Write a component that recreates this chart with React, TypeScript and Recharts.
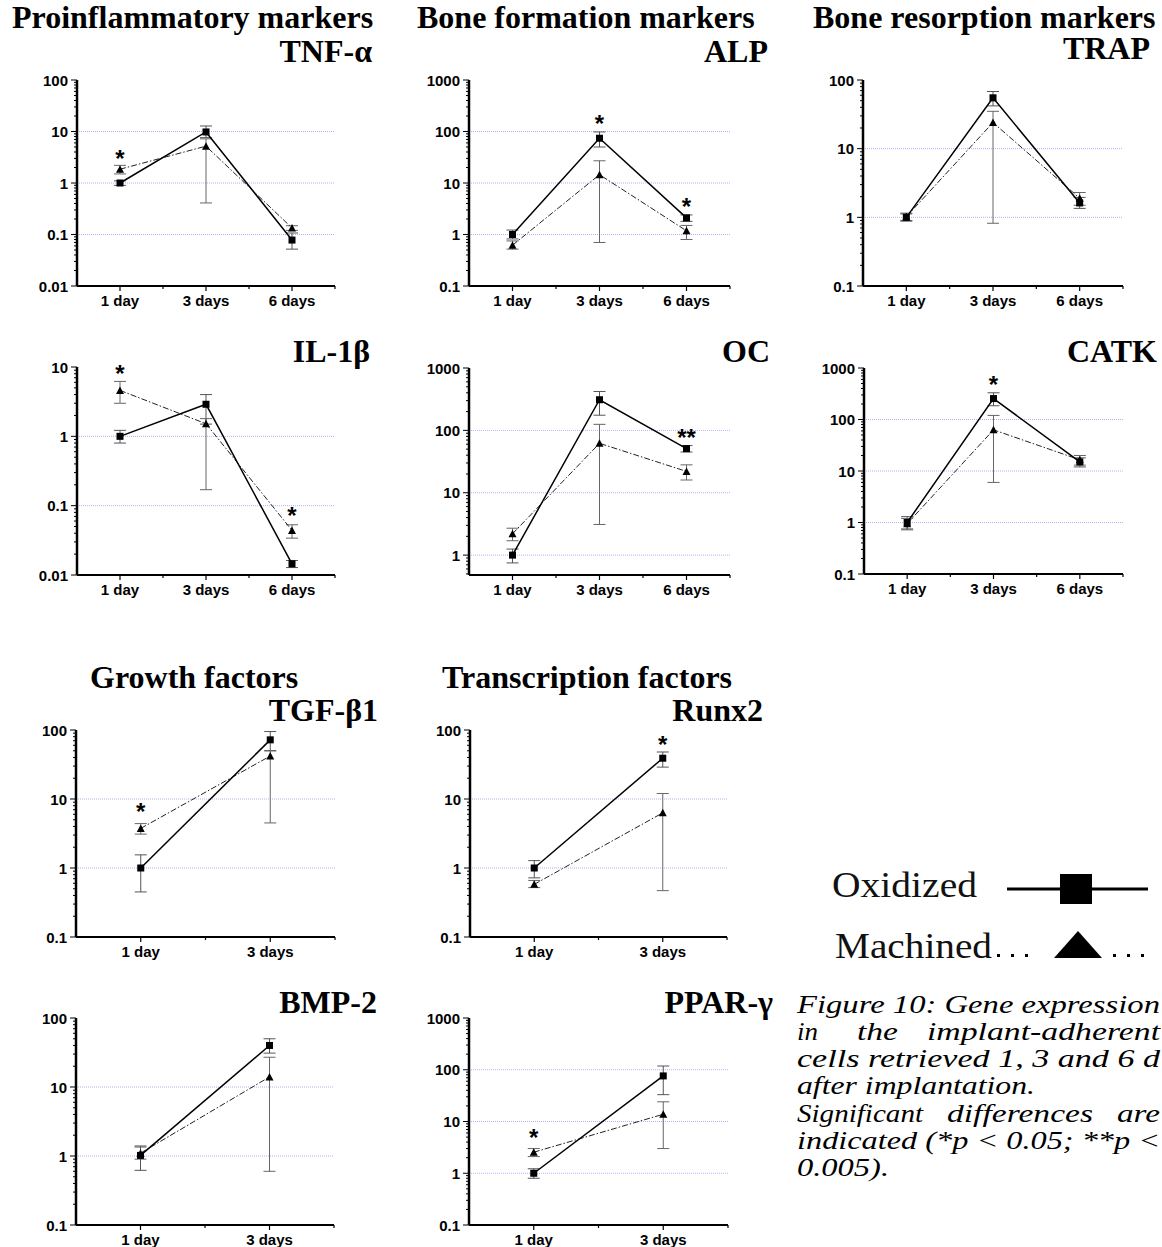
import React from 'react';
import { LineChart, Line, XAxis, YAxis, ErrorBar, ReferenceLine, ReferenceDot } from 'recharts';

// ---------- categories ----------
const DAYS_3 = ['1 day', '3 days', '6 days'];
const DAYS_2 = ['1 day', '3 days'];

// ---------- data (fold change, log scale) ----------
// TNF-α
const tnfOx = [1.0, 9.8, 0.078];
const tnfOxRange = [[0.9, 1.1], [7.6, 12.8], [0.052, 0.107]];
const tnfMa = [1.85, 5.2, 0.134];
const tnfMaRange = [[1.5, 2.2], [0.41, 7.2], [0.12, 0.148]];
const tnfStars = [{ x: 1, y: 3.66, t: '*' }];

// ALP
const alpOx = [1.0, 74, 2.1];
const alpOxRange = [[0.82, 1.22], [50, 98], [1.8, 2.4]];
const alpMa = [0.62, 14.5, 1.18];
const alpMaRange = [[0.52, 0.75], [0.7, 27], [0.8, 1.5]];
const alpStars = [{ x: 2, y: 178, t: '*' }, { x: 3, y: 4.2, t: '*' }];

// TRAP
const trapOx = [1.0, 55, 1.62];
const trapOxRange = [[0.88, 1.15], [42, 68], [1.35, 1.95]];
const trapMa = [1.02, 24, 1.9];
const trapMaRange = [[0.9, 1.12], [0.82, 35], [1.5, 2.3]];
const trapStars: Star[] = [];

// IL-1β
const il1Ox = [1.0, 2.9, 0.0145];
const il1OxRange = [[0.8, 1.22], [1.5, 4.0], [0.0128, 0.0162]];
const il1Ma = [4.6, 1.52, 0.044];
const il1MaRange = [[3.0, 6.2], [0.17, 1.8], [0.034, 0.053]];
const il1Stars = [{ x: 1, y: 9.3, t: '*' }, { x: 3, y: 0.083, t: '*' }];

// OC
const ocOx = [1.0, 310, 51];
const ocOxRange = [[0.75, 1.25], [175, 420], [45, 57]];
const ocMa = [2.2, 62, 22];
const ocMaRange = [[1.7, 2.7], [3.1, 125], [16, 28]];
const ocStars = [{ x: 3, y: 90, t: '**' }];

// CATK
const catkOx = [1.0, 255, 15];
const catkOxRange = [[0.75, 1.3], [185, 330], [12, 18]];
const catkMa = [0.95, 63, 16.5];
const catkMaRange = [[0.72, 1.2], [6, 120], [13, 20]];
const catkStars = [{ x: 2, y: 572, t: '*' }];

// TGF-β1
const tgfOx = [1.0, 72];
const tgfOxRange = [[0.45, 1.55], [50, 95]];
const tgfMa = [3.75, 42];
const tgfMaRange = [[3.1, 4.4], [4.5, 50]];
const tgfStars = [{ x: 1, y: 7.66, t: '*' }];

// Runx2
const runxOx = [1.0, 39];
const runxOxRange = [[0.72, 1.28], [29, 48]];
const runxMa = [0.58, 6.3];
const runxMaRange = [[0.52, 0.66], [0.47, 12]];
const runxStars = [{ x: 2, y: 71.6, t: '*' }];

// BMP-2
const bmpOx = [1.02, 40];
const bmpOxRange = [[0.62, 1.35], [31, 50]];
const bmpMa = [1.1, 14];
const bmpMaRange = [[0.9, 1.4], [0.6, 27]];
const bmpStars: Star[] = [];

// PPAR-γ
const pparOx = [1.0, 76];
const pparOxRange = [[0.8, 1.22], [33, 118]];
const pparMa = [2.55, 13.8];
const pparMaRange = [[2.1, 3.0], [3.0, 24]];
const pparStars = [{ x: 1, y: 5.9, t: '*' }];

type Star = { x: number; y: number; t: string };
type PanelDef = {
  gene: string;
  days: string[];
  ox: number[];
  oxR: number[][];
  ma: number[];
  maR: number[][];
  stars: Star[];
  domain: [number, number];
  plot: { x: number; y: number; w: number; h: number };
  geneX: number;
  geneY: number;
};

const PANELS: PanelDef[] = [
  { gene: 'TNF-α', days: DAYS_3, ox: tnfOx, oxR: tnfOxRange, ma: tnfMa, maR: tnfMaRange, stars: tnfStars, domain: [0.01, 100], plot: { x: 77, y: 80, w: 258, h: 206 }, geneX: 372, geneY: 62 },
  { gene: 'ALP', days: DAYS_3, ox: alpOx, oxR: alpOxRange, ma: alpMa, maR: alpMaRange, stars: alpStars, domain: [0.1, 1000], plot: { x: 469, y: 80, w: 261, h: 206 }, geneX: 768, geneY: 62 },
  { gene: 'TRAP', days: DAYS_3, ox: trapOx, oxR: trapOxRange, ma: trapMa, maR: trapMaRange, stars: trapStars, domain: [0.1, 100], plot: { x: 863, y: 80, w: 260, h: 206 }, geneX: 1150, geneY: 59 },
  { gene: 'IL-1β', days: DAYS_3, ox: il1Ox, oxR: il1OxRange, ma: il1Ma, maR: il1MaRange, stars: il1Stars, domain: [0.01, 10], plot: { x: 77, y: 367, w: 258, h: 208 }, geneX: 370, geneY: 362 },
  { gene: 'OC', days: DAYS_3, ox: ocOx, oxR: ocOxRange, ma: ocMa, maR: ocMaRange, stars: ocStars, domain: [0.48, 1000], plot: { x: 469, y: 368, w: 261, h: 207 }, geneX: 770, geneY: 362 },
  { gene: 'CATK', days: DAYS_3, ox: catkOx, oxR: catkOxRange, ma: catkMa, maR: catkMaRange, stars: catkStars, domain: [0.1, 1000], plot: { x: 864, y: 368, w: 259, h: 206 }, geneX: 1157, geneY: 362 },
  { gene: 'TGF-β1', days: DAYS_2, ox: tgfOx, oxR: tgfOxRange, ma: tgfMa, maR: tgfMaRange, stars: tgfStars, domain: [0.1, 100], plot: { x: 76, y: 730, w: 259, h: 207 }, geneX: 378, geneY: 721 },
  { gene: 'Runx2', days: DAYS_2, ox: runxOx, oxR: runxOxRange, ma: runxMa, maR: runxMaRange, stars: runxStars, domain: [0.1, 100], plot: { x: 470, y: 730, w: 257, h: 207 }, geneX: 763, geneY: 721 },
  { gene: 'BMP-2', days: DAYS_2, ox: bmpOx, oxR: bmpOxRange, ma: bmpMa, maR: bmpMaRange, stars: bmpStars, domain: [0.1, 100], plot: { x: 76, y: 1018, w: 258, h: 207 }, geneX: 377, geneY: 1013 },
  { gene: 'PPAR-γ', days: DAYS_2, ox: pparOx, oxR: pparOxRange, ma: pparMa, maR: pparMaRange, stars: pparStars, domain: [0.1, 1000], plot: { x: 469, y: 1018, w: 259, h: 207 }, geneX: 773, geneY: 1013 },
];

const GROUP_TITLES = [
  { text: 'Proinflammatory markers', x: 12, y: 28 },
  { text: 'Bone formation markers', x: 417, y: 28 },
  { text: 'Bone resorption markers', x: 813, y: 28 },
  { text: 'Growth factors', x: 90, y: 688 },
  { text: 'Transcription factors', x: 442, y: 688 },
];

const CAPTION = [
  { y: 1013, parts: [{ t: 'Figure 10: Gene expression', x: 797, w: 363 }] },
  { y: 1040, parts: [{ t: 'in', x: 797, w: 21 }, { t: 'the', x: 857, w: 41 }, { t: 'implant-adherent', x: 927, w: 233 }] },
  { y: 1067, parts: [{ t: 'cells retrieved 1, 3 and 6 d', x: 797, w: 363 }] },
  { y: 1094, parts: [{ t: 'after implantation.', x: 797, w: 238 }] },
  { y: 1122, parts: [{ t: 'Significant', x: 797, w: 126 }, { t: 'differences', x: 947, w: 146 }, { t: 'are', x: 1117, w: 43 }] },
  { y: 1149, parts: [{ t: 'indicated (*p < 0.05; **p <', x: 797, w: 363 }] },
  { y: 1176, parts: [{ t: '0.005).', x: 797, w: 92 }] },
];

const Y_AXIS_W = 70;
const M_TOP = 15;
const M_RIGHT = 8;
const X_AXIS_H = 30;
const SANS = '"Liberation Sans", Arial, sans-serif';
const SERIF = '"Liberation Serif", "Times New Roman", serif';
const GRID_COLOR = '#b2b2f2';

const isMajor = (v: number) => Math.abs(Math.log10(v) - Math.round(Math.log10(v))) < 1e-6;

function logTicks(min: number, max: number): number[] {
  const out: number[] = [];
  const d0 = Math.floor(Math.log10(min) + 1e-9);
  const d1 = Math.ceil(Math.log10(max) - 1e-9);
  for (let d = d0; d <= d1; d++) {
    for (let k = 1; k <= 9; k++) {
      const v = Number((k * Math.pow(10, d)).toPrecision(6));
      if (v >= min - 1e-12 && v <= max + 1e-12) out.push(v);
    }
  }
  return out;
}

const squareDot = (p: any) => {
  if (p.cx == null || p.cy == null) return <g key={`sq-${p.index}`} />;
  return <rect key={`sq-${p.index}`} x={p.cx - 3.5} y={p.cy - 3.5} width={7} height={7} fill="#000" />;
};
const triangleDot = (p: any) => {
  if (p.cx == null || p.cy == null) return <g key={`tr-${p.index}`} />;
  return (
    <polygon
      key={`tr-${p.index}`}
      points={`${p.cx - 4},${p.cy + 3.5} ${p.cx + 4},${p.cy + 3.5} ${p.cx},${p.cy - 4}`}
      fill="#000"
    />
  );
};

function Panel({ def }: { def: PanelDef }) {
  const { plot } = def;
  const width = plot.w + Y_AXIS_W + M_RIGHT;
  const height = plot.h + M_TOP + X_AXIS_H;
  const n = def.days.length;
  const axisY = M_TOP + plot.h;
  const data = def.days.map((d, i) => ({
    x: i + 1,
    day: d,
    ox: def.ox[i],
    oxErr: [def.ox[i] - def.oxR[i][0], def.oxR[i][1] - def.ox[i]],
    ma: def.ma[i],
    maErr: [def.ma[i] - def.maR[i][0], def.maR[i][1] - def.ma[i]],
  }));
  const xTicks: number[] = [];
  for (let i = 1; i <= n; i++) {
    xTicks.push(i);
    xTicks.push(i + 0.5);
  }
  const yTicks = logTicks(def.domain[0], def.domain[1]);
  const grid = yTicks.filter((v) => isMajor(v) && v > def.domain[0] * 1.0001 && v < def.domain[1] * 0.9999);

  const renderXTick = (p: any) => {
    const v = p.payload.value;
    const isInt = Math.abs(v - Math.round(v)) < 1e-6;
    const x = p.x;
    return (
      <g key={`xt-${p.index}`}>
        <line x1={x} x2={x} y1={axisY} y2={axisY + (isInt ? 5 : 3)} stroke="#000" strokeWidth={1.2} />
        {isInt && (
          <text x={x} y={axisY + 20} textAnchor="middle" fontFamily={SANS} fontWeight="bold" fontSize={15} fill="#000">
            {def.days[Math.round(v) - 1]}
          </text>
        )}
      </g>
    );
  };
  const renderYTick = (p: any) => {
    const v = p.payload.value;
    const major = isMajor(v);
    const y = p.y;
    const x = Y_AXIS_W;
    return (
      <g key={`yt-${p.index}`}>
        <line x1={x} x2={x - (major ? 6 : 3)} y1={y} y2={y} stroke="#000" strokeWidth={1} />
        {major && (
          <text x={x - 9} y={y + 5.5} textAnchor="end" fontFamily={SANS} fontWeight="bold" fontSize={15} fill="#000">
            {String(v)}
          </text>
        )}
      </g>
    );
  };

  return (
    <div style={{ position: 'absolute', left: plot.x - Y_AXIS_W, top: plot.y - M_TOP, width, height }}>
      <LineChart width={width} height={height} data={data} margin={{ top: M_TOP, right: M_RIGHT, left: 0, bottom: 0 }}>
        <XAxis
          type="number"
          dataKey="x"
          domain={[0.5, n + 0.5]}
          ticks={xTicks}
          interval={0}
          allowDataOverflow
          height={X_AXIS_H}
          tickSize={0}
          tickMargin={0}
          tickLine={false}
          axisLine={{ stroke: '#000', strokeWidth: 2 }}
          tick={renderXTick}
        />
        <YAxis
          type="number"
          scale="log"
          domain={def.domain}
          ticks={yTicks}
          interval={0}
          allowDataOverflow
          width={Y_AXIS_W}
          tickSize={0}
          tickMargin={0}
          tickLine={false}
          axisLine={{ stroke: '#000', strokeWidth: 2.5 }}
          tick={renderYTick}
        />
        {grid.map((v) => (
          <ReferenceLine key={`g-${v}`} y={v} stroke={GRID_COLOR} strokeWidth={1} strokeDasharray="1 1" />
        ))}
        <Line
          type="linear"
          dataKey="ma"
          stroke="#222"
          strokeWidth={1}
          strokeDasharray="6 2 1.5 2"
          dot={triangleDot}
          activeDot={false}
          isAnimationActive={false}
        >
          <ErrorBar dataKey="maErr" direction="y" width={6} stroke="#666" strokeWidth={1} isAnimationActive={false} />
        </Line>
        <Line
          type="linear"
          dataKey="ox"
          stroke="#000"
          strokeWidth={1.5}
          dot={squareDot}
          activeDot={false}
          isAnimationActive={false}
        >
          <ErrorBar dataKey="oxErr" direction="y" width={6} stroke="#555" strokeWidth={1} isAnimationActive={false} />
        </Line>
        {def.stars.map((s, i) => (
          <ReferenceDot
            key={`s-${i}`}
            x={s.x}
            y={s.y}
            r={0}
            shape={(p: any) => (
              <text x={p.cx} y={p.cy + 13} textAnchor="middle" fontFamily={SANS} fontWeight="bold" fontSize={24} fill="#000">
                {s.t}
              </text>
            )}
          />
        ))}
      </LineChart>
    </div>
  );
}

export default function App() {
  return (
    <div
      style={{
        position: 'absolute',
        left: 0,
        top: 0,
        width: 1162,
        height: 1247,
        overflow: 'hidden',
        background: '#fff',
      }}
    >
      {PANELS.map((p) => (
        <Panel key={p.gene} def={p} />
      ))}
      <svg width={1162} height={1247} style={{ position: 'absolute', left: 0, top: 0, pointerEvents: 'none' }}>
        {GROUP_TITLES.map((t) => (
          <text key={t.text} x={t.x} y={t.y} fontFamily={SERIF} fontWeight="bold" fontSize={32} fill="#000">
            {t.text}
          </text>
        ))}
        {PANELS.map((p) => (
          <text key={`gn-${p.gene}`} x={p.geneX} y={p.geneY} textAnchor="end" fontFamily={SERIF} fontWeight="bold" fontSize={32} fill="#000">
            {p.gene}
          </text>
        ))}
        {/* legend */}
        <text x={832} y={897} fontFamily={SERIF} fontSize={36} textLength={145} lengthAdjust="spacingAndGlyphs" fill="#111">
          Oxidized
        </text>
        <line x1={1007} x2={1148} y1={889} y2={889} stroke="#000" strokeWidth={3} />
        <rect x={1060} y={874} width={32} height={30} fill="#000" />
        <text x={835} y={958} fontFamily={SERIF} fontSize={36} textLength={157} lengthAdjust="spacingAndGlyphs" fill="#111">
          Machined
        </text>
        {[997, 1011, 1025, 1113, 1127, 1141].map((x) => (
          <rect key={`ld-${x}`} x={x} y={954} width={3} height={3} fill="#000" />
        ))}
        <polygon points="1054,958 1102,958 1078,931" fill="#000" />
        {/* caption */}
        {CAPTION.map((line, li) =>
          line.parts.map((part, pi) => (
            <text
              key={`c-${li}-${pi}`}
              x={part.x}
              y={line.y}
              fontFamily={SERIF}
              fontStyle="italic"
              fontSize={25}
              textLength={part.w}
              lengthAdjust="spacingAndGlyphs"
              fill="#000"
            >
              {part.t}
            </text>
          ))
        )}
      </svg>
    </div>
  );
}
